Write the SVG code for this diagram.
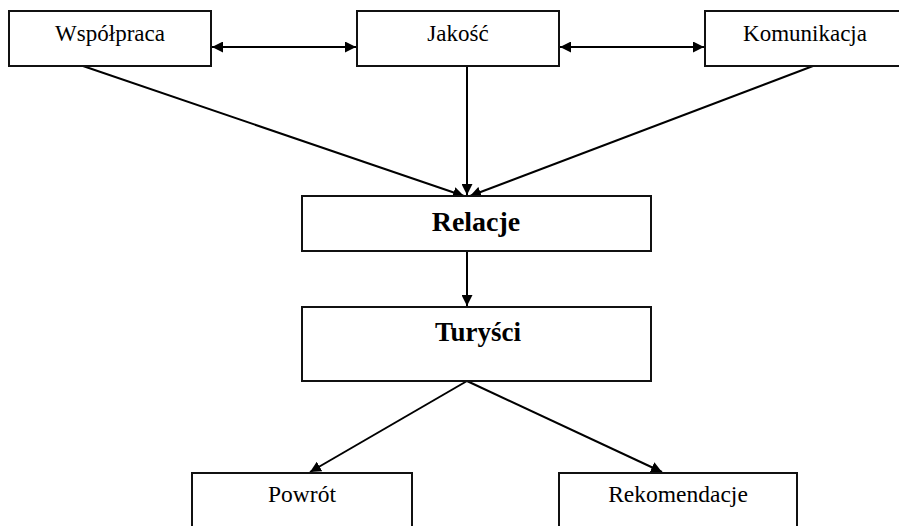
<svg xmlns="http://www.w3.org/2000/svg" width="899" height="526" viewBox="0 0 899 526">
  <defs>
    <marker id="arrow" viewBox="0 0 10 10" refX="10" refY="5" markerWidth="11" markerHeight="11" markerUnits="userSpaceOnUse" orient="auto-start-reverse">
      <path d="M0,0 L10,5 L0,10 z" fill="#000"/>
    </marker>
    <style>
      .box { fill: #fff; stroke: #111; stroke-width: 2; }
      text { font-family: 'Liberation Serif', serif; fill: #000; text-anchor: middle; }
      .lbl { font-size: 23px; }
      .big { font-size: 28px; font-weight: bold; }
      .edge { stroke: #000; stroke-width: 2; fill: none; marker-end: url(#arrow); }
      .both { marker-start: url(#arrow); }
    </style>
  </defs>
  <rect width="899" height="526" fill="#fff"/>

  <g id="connectors">
    <line class="edge both" x1="212" y1="47" x2="356" y2="47"/>
    <line class="edge both" x1="560" y1="47" x2="704" y2="47"/>
    <line class="edge" x1="83" y1="66" x2="464" y2="196"/>
    <line class="edge" x1="467" y1="66" x2="467" y2="195"/>
    <line class="edge" x1="813" y1="66" x2="470" y2="196"/>
    <line class="edge" x1="467" y1="251" x2="467" y2="306"/>
    <line class="edge" x1="467" y1="381" x2="310" y2="472"/>
    <line class="edge" x1="467" y1="381" x2="662" y2="472"/>
  </g>

  <g id="wspolpraca">
    <rect class="box" x="9" y="11" width="202" height="55"/>
    <text class="lbl" x="110" y="41">Współpraca</text>
  </g>
  <g id="jakosc">
    <rect class="box" x="357" y="11" width="202" height="55"/>
    <text class="lbl" x="458" y="41">Jakość</text>
  </g>
  <g id="komunikacja">
    <rect class="box" x="705" y="11" width="200" height="55"/>
    <text class="lbl" x="805" y="41">Komunikacja</text>
  </g>
  <g id="relacje">
    <rect class="box" x="302" y="196" width="349" height="55"/>
    <text class="big" x="476" y="231">Relacje</text>
  </g>
  <g id="turysci">
    <rect class="box" x="302" y="307" width="349" height="74"/>
    <text class="big" x="478" y="341" style="font-size:27px">Turyści</text>
  </g>
  <g id="powrot">
    <rect class="box" x="192" y="473" width="220" height="60"/>
    <text class="lbl" x="302" y="502" style="font-size:23.5px">Powrót</text>
  </g>
  <g id="rekomendacje">
    <rect class="box" x="559" y="473" width="238" height="60"/>
    <text class="lbl" x="678" y="502" style="font-size:23.5px">Rekomendacje</text>
  </g>
</svg>
